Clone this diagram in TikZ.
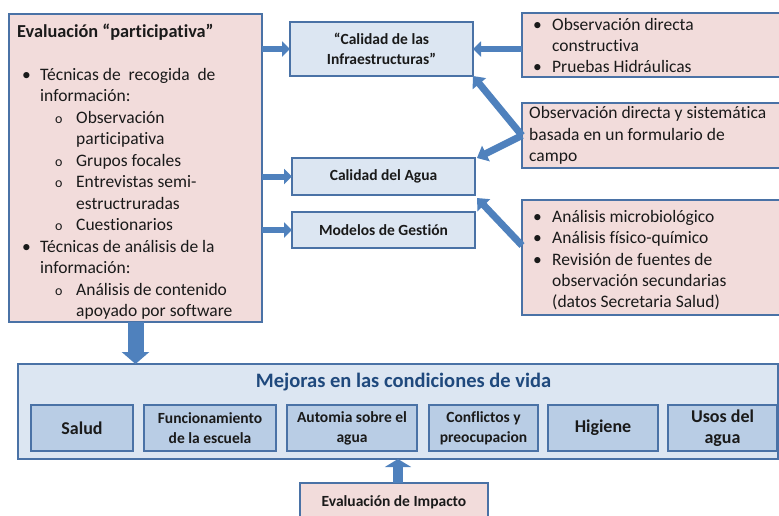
\documentclass[tikz,border=0pt]{standalone}
\usepackage{fontspec}
\setmainfont{Carlito}[Ligatures=NoCommon]
\usetikzlibrary{arrows.meta}
\definecolor{pinkf}{HTML}{F2DCDB}
\definecolor{bordc}{HTML}{4A72A6}
\definecolor{lightb}{HTML}{DCE6F2}
\definecolor{midb}{HTML}{B9CDE5}
\definecolor{arrowc}{HTML}{4F81BD}
\definecolor{titlec}{HTML}{1F497D}
\definecolor{textc}{HTML}{1A1A1A}
\newcommand{\subbul}{\makebox[21pt][l]{\fontsize{14}{14}\selectfont o}}
\newcommand{\mainbul}[1]{\makebox[#1][l]{•}}
\tikzset{
  boxbase/.style={draw=bordc, line width=1.3pt, inner sep=0pt, outer sep=0pt, anchor=north west},
  pinkbox/.style={boxbase, fill=pinkf},
  bluebox/.style={boxbase, fill=lightb},
  subbox/.style={boxbase, fill=midb},
  txt/.style={text=textc, inner sep=0pt, anchor=base west, font=\fontsize{17.5}{21}\selectfont},
  ctxt/.style={text=textc, inner sep=0pt, align=center, font=\bfseries\fontsize{15.5}{20}\selectfont},
  btxt/.style={text=textc, inner sep=0pt, align=center, font=\bfseries\fontsize{18}{21}\selectfont},
  harrow/.style={draw=arrowc, line width=6pt, -{Triangle[width=15pt,length=8pt]}},
  darrow/.style={draw=arrowc, line width=7pt, -{Triangle[width=17pt,length=10pt]}},
  bigarrow/.style={draw=arrowc, line width=16pt, -{Triangle[width=27pt,length=12pt]}},
  uparrow/.style={draw=arrowc, line width=10pt, -{Triangle[width=26pt,length=8pt]}},
}
\begin{document}
\begin{tikzpicture}[x=1pt,y=-1pt]
\useasboundingbox (0,0) rectangle (779,515);
\clip (0,0) rectangle (779,515);

% boxes
\node[pinkbox, minimum width=253pt, minimum height=308pt] (left) at (9,14) {};
\node[bluebox, minimum width=183pt, minimum height=54pt] (inf) at (290,22) {};
\node[bluebox, minimum width=183pt, minimum height=37pt] (agua) at (292,158) {};
\node[bluebox, minimum width=183pt, minimum height=36pt] (mod) at (292,212) {};
\node[pinkbox, minimum width=262pt, minimum height=64pt] (obs1) at (522,13) {};
\node[pinkbox, minimum width=262pt, minimum height=65pt] (obs2) at (522,103) {};
\node[pinkbox, minimum width=262pt, minimum height=115pt] (lab) at (522,200) {};
\node[bluebox, minimum width=760pt, minimum height=95pt] (mej) at (18,364) {};
\node[subbox, minimum width=102pt, minimum height=46pt] (salud) at (31,405) {};
\node[subbox, minimum width=132pt, minimum height=46pt] (func) at (144,405) {};
\node[subbox, minimum width=130pt, minimum height=46pt] (auto) at (287,405) {};
\node[subbox, minimum width=109pt, minimum height=46pt] (conf) at (429,405) {};
\node[subbox, minimum width=110pt, minimum height=46pt] (hig) at (548,405) {};
\node[subbox, minimum width=109pt, minimum height=46pt] (usos) at (668,405) {};
\node[pinkbox, minimum width=188pt, minimum height=40pt] (imp) at (300,483) {};

% left box text
\node[txt, font=\bfseries\fontsize{18.3}{21}\selectfont] (ltitle) at (17,37) {Evaluación “participativa”};
\foreach \n/\x/\y/\t in {
  l1/22/80/{\mainbul{18pt}Técnicas de\ \ recogida\ \ de},
  l2/40/101.5/{información:},
  l3/55/123/{\subbul Observación},
  l4/76/144.5/{participativa},
  l5/55/166/{\subbul Grupos focales},
  l6/55/187.5/{\subbul Entrevistas semi-},
  l7/76/209/{estructruradas},
  l8/55/230.5/{\subbul Cuestionarios},
  l9/22/252/{\mainbul{18pt}Técnicas de análisis de la},
  l10/40/273.5/{información:},
  l11/55/295/{\subbul Análisis de contenido},
  l12/76/316.5/{apoyado por software}}
  {\node[txt] (\n) at (\x,\y) {\t};}

% right box texts
\foreach \n/\x/\y/\t in {
  r1/533/30/{\mainbul{19pt}Observación directa},
  r2/552/51/{constructiva},
  r3/533/72/{\mainbul{19pt}Pruebas Hidráulicas},
  s1/529/118/{Observación directa y sistemática},
  s2/529/140/{basada en un formulario de},
  s3/529/161/{campo},
  t1/533/222/{\mainbul{19pt}Análisis microbiológico},
  t2/533/243/{\mainbul{19pt}Análisis físico-químico},
  t3/533/265/{\mainbul{19pt}Revisión de fuentes de},
  t4/552/286/{observación secundarias},
  t5/552/307/{(datos Secretaria Salud)}}
  {\node[txt] (\n) at (\x,\y) {\t};}

% middle texts
\node[ctxt] (inft) at (inf.center) {“Calidad\ de las\\Infraestructuras”};
\node[ctxt] (aguat) at (agua.center) {Calidad del Agua};
\node[ctxt] (modt) at (mod.center) {Modelos de Gestión};

% bottom texts
\node[text=titlec, inner sep=0pt, font=\bfseries\fontsize{20.5}{24}\selectfont] (mejt) at (403.5,382) {Mejoras en las condiciones de vida};
\node[btxt] (saludt) at (salud.center) {Salud};
\node[ctxt] (funct) at (func.center) {Funcionamiento\\de la escuela};
\node[ctxt] (autot) at (auto.center) {Automia sobre el\\agua};
\node[ctxt] (conft) at (conf.center) {Conflictos y\\preocupacion};
\node[btxt] (higt) at (hig.center) {Higiene};
\node[btxt] (usost) at (usos.center) {Usos del\\agua};
\node[ctxt] (impt) at (394,502) {Evaluación de Impacto};

% arrows
\draw[harrow] (left.east |- inf.west) -- (inf.west);
\draw[harrow] (left.east |- agua.west) -- (agua.west);
\draw[harrow] (left.east |- mod.west) -- (mod.west);
\draw[harrow] (inf.east -| obs1.west) -- (inf.east);
\coordinate (vapex) at (obs2.west);
\draw[darrow] (vapex) -- (inf.south east);
\draw[darrow] (vapex) -- ([xshift=2pt]agua.north east);
\coordinate (labin) at ([yshift=12pt]lab.west);
\draw[darrow] (labin) -- ([xshift=2pt,yshift=-3pt]agua.south east);
\draw[bigarrow] (left.south) -- (left.south |- mej.north);
\draw[uparrow] (398,483) -- (398,459);
\end{tikzpicture}
\end{document}
